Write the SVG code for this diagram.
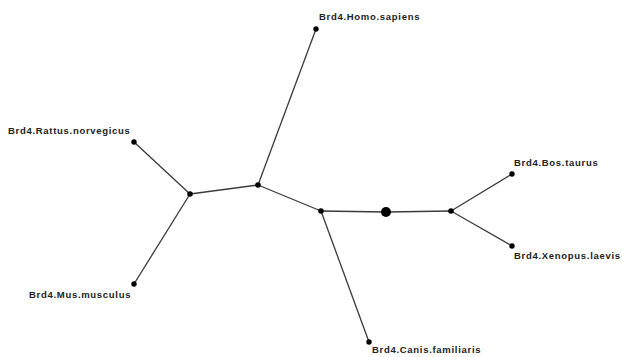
<svg xmlns="http://www.w3.org/2000/svg" width="622" height="357" viewBox="0 0 622 357">
<style>
.e{stroke:#3a3a3a;stroke-width:1.3;fill:none}
.n{fill:#000}
.t{font-family:"Liberation Sans",Arial,sans-serif;font-size:9.5px;font-weight:bold;fill:#222;letter-spacing:0.7px}
</style>
<rect width="622" height="357" fill="#fff"/>
<g id="connectors">
<line class="e" x1="134" y1="142" x2="190" y2="194"/>
<line class="e" x1="134" y1="284" x2="190" y2="194"/>
<line class="e" x1="190" y1="194" x2="258" y2="185"/>
<line class="e" x1="258" y1="185" x2="316" y2="29"/>
<line class="e" x1="258" y1="185" x2="321" y2="211"/>
<line class="e" x1="321" y1="211" x2="369" y2="342"/>
<line class="e" x1="321" y1="211" x2="386" y2="212"/>
<line class="e" x1="386" y1="212" x2="451" y2="211"/>
<line class="e" x1="451" y1="211" x2="512" y2="174"/>
<line class="e" x1="451" y1="211" x2="512" y2="246"/>
</g>
<g id="n_rattus"><circle class="n" cx="134" cy="142" r="2.7"/><text class="t" x="8" y="134">Brd4.Rattus.norvegicus</text></g>
<g id="n_mus"><circle class="n" cx="134" cy="284" r="2.7"/><text class="t" x="29" y="298">Brd4.Mus.musculus</text></g>
<g id="n_homo"><circle class="n" cx="316" cy="29" r="2.7"/><text class="t" x="319" y="20">Brd4.Homo.sapiens</text></g>
<g id="n_canis"><circle class="n" cx="369" cy="342" r="2.7"/><text class="t" x="372" y="353">Brd4.Canis.familiaris</text></g>
<g id="n_bos"><circle class="n" cx="512" cy="174" r="2.7"/><text class="t" x="514" y="166">Brd4.Bos.taurus</text></g>
<g id="n_xenopus"><circle class="n" cx="512" cy="246" r="2.7"/><text class="t" x="514" y="259">Brd4.Xenopus.laevis</text></g>
<g id="j1"><circle class="n" cx="190" cy="194" r="2.8"/></g>
<g id="j2"><circle class="n" cx="258" cy="185" r="2.8"/></g>
<g id="j3"><circle class="n" cx="321" cy="211" r="2.8"/></g>
<g id="root"><circle class="n" cx="386" cy="212" r="5"/></g>
<g id="j4"><circle class="n" cx="451" cy="211" r="2.8"/></g>
</svg>
